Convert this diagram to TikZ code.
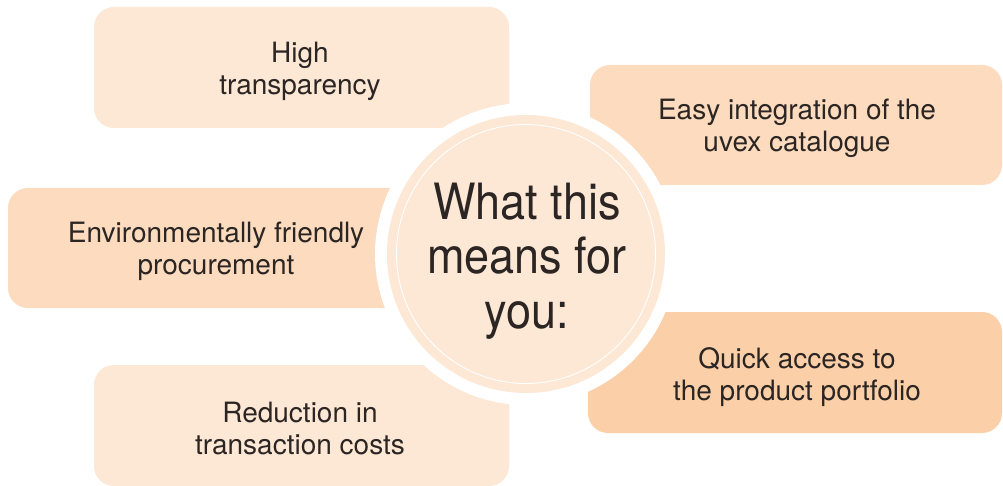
\documentclass[tikz,border=0pt]{standalone}
\usepackage{fontspec}
\setmainfont{TeX Gyre Heros}
\newfontfamily\circfont[FakeStretch=0.9]{TeX Gyre Heros}
\definecolor{lightpeach}{HTML}{FDE8D5}
\definecolor{midpeach}{HTML}{FCDBBE}
\definecolor{darkpeach}{HTML}{FBCFA7}
\definecolor{txt}{HTML}{2B2523}
\begin{document}
\begin{tikzpicture}[x=1pt,y=-1pt,
  panel/.style={rounded corners=20pt, inner sep=0pt, draw=none},
  lbl/.style={anchor=base, inner sep=0pt, text=txt, font=\fontsize{28}{32}\selectfont},
  hubtext/.style={anchor=base, inner sep=0pt, text=txt, font=\circfont\fontsize{50}{54}\selectfont}
]
\useasboundingbox (0,0) rectangle (1003,486);
\fill[white] (0,0) rectangle (1003,486);
% panels
\node[panel, fill=lightpeach, minimum width=415pt, minimum height=121pt] (b1) at (301.5,67.5) {};
\node[panel, fill=midpeach, minimum width=412pt, minimum height=120pt] (b2) at (796,125) {};
\node[panel, fill=midpeach, minimum width=422pt, minimum height=120pt] (b3) at (219,248) {};
\node[panel, fill=darkpeach, minimum width=414pt, minimum height=121pt] (b4) at (795,372.5) {};
\node[panel, fill=lightpeach, minimum width=415pt, minimum height=121pt] (b5) at (301.5,425.5) {};
% central circle
\node[circle, fill=white, minimum size=302pt, inner sep=0pt] (ring) at (526,254) {};
\node[circle, fill=lightpeach, minimum size=278pt, inner sep=0pt] (hub) at (526,254) {};
\draw[white, line width=0.9pt] (hub.center) circle[radius=129.5pt];
% labels
\node[lbl] (t1) at (300,63) {\begin{tabular}[t]{@{}c@{}}High\\transparency\end{tabular}};
\node[lbl] (t2) at (797,120) {\begin{tabular}[t]{@{}c@{}}Easy integration of the\\uvex catalogue\end{tabular}};
\node[lbl] (t3) at (216,243) {\begin{tabular}[t]{@{}c@{}}Environmentally friendly\\procurement\end{tabular}};
\node[lbl] (t4) at (797,368) {\begin{tabular}[t]{@{}c@{}}Quick access to\\the product portfolio\end{tabular}};
\node[lbl] (t5) at (300,422) {\begin{tabular}[t]{@{}c@{}}Reduction in\\transaction costs\end{tabular}};
\node[hubtext] (t0) at (527,220) {\begin{tabular}[t]{@{}c@{}}What this\\means for\\you:\end{tabular}};
\end{tikzpicture}
\end{document}
